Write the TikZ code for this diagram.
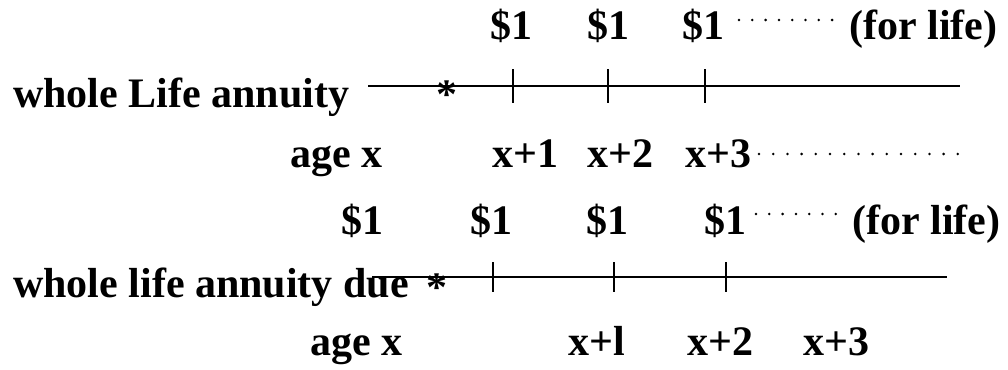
\documentclass[tikz,border=0pt]{standalone}
\usepackage{fontspec}
\setmainfont{Liberation Serif}

\tikzset{
  lbl/.style={font=\fontsize{42}{48}\selectfont\bfseries, inner sep=0pt, anchor=base},
  axis/.style={line width=2.2pt},
}

\begin{document}
\begin{tikzpicture}[x=1pt,y=-1pt]
\useasboundingbox (0,0) rectangle (1008,369);

% ---- whole life annuity (payments in arrears)
\node[lbl, anchor=base west] (nameA) at (13,107) {whole Life annuity};
\coordinate (sA) at (368,86);
\coordinate (eA) at (960,86);
\draw[axis] (sA) -- (eA);
\node[lbl] (starA) at (447,108) {*};
\foreach \n/\x/\p in {1/513/511,2/608/608,3/705/703}
{
  \coordinate (tA\n) at (\x,86);
  \draw[axis] ([yshift=17pt]tA\n) -- ([yshift=-17pt]tA\n);
  \node[lbl] (payA\n) at (\p,40) {\$1};
}
\foreach \x in {0,...,7}
  \fill (739+\x*13.3,20) circle (1.4pt);
\node[lbl, anchor=base west] (lifeA) at (849,40) {(for life)};

\node[lbl, anchor=base west] (ageA) at (290,167) {age x};
\node[lbl, anchor=base west] (ageA1) at (492,167) {x+1};
\node[lbl, anchor=base west] (ageA2) at (587,167) {x+2};
\node[lbl, anchor=base west] (ageA3) at (685,167) {x+3};
\foreach \x in {0,...,14}
  \fill (759+\x*14.2,154) circle (1.4pt);

% ---- whole life annuity due
\node[lbl, anchor=base west] (nameB) at (13,297) {whole life annuity due};
\coordinate (sB) at (372,277);
\coordinate (eB) at (947,277);
\draw[axis] (sB) -- (eB);
\node[lbl] (starB) at (437,301) {*};
\foreach \n/\x in {1/493,2/614,3/726}
{
  \coordinate (tB\n) at (\x,277);
  \draw[axis] ([yshift=15pt]tB\n) -- ([yshift=-15pt]tB\n);
}
\foreach \n/\p in {0/362,1/491,2/607,3/725}
  \node[lbl] (payB\n) at (\p,234) {\$1};
\foreach \x in {0,...,6}
  \fill (756+\x*13.3,214) circle (1.4pt);
\node[lbl, anchor=base west] (lifeB) at (852,234) {(for life)};

\node[lbl, anchor=base west] (ageB) at (310,355) {age x};
\node[lbl, anchor=base west] (ageB1) at (568,355) {x+l};
\node[lbl, anchor=base west] (ageB2) at (687,355) {x+2};
\node[lbl, anchor=base west] (ageB3) at (803,355) {x+3};
\end{tikzpicture}
\end{document}
